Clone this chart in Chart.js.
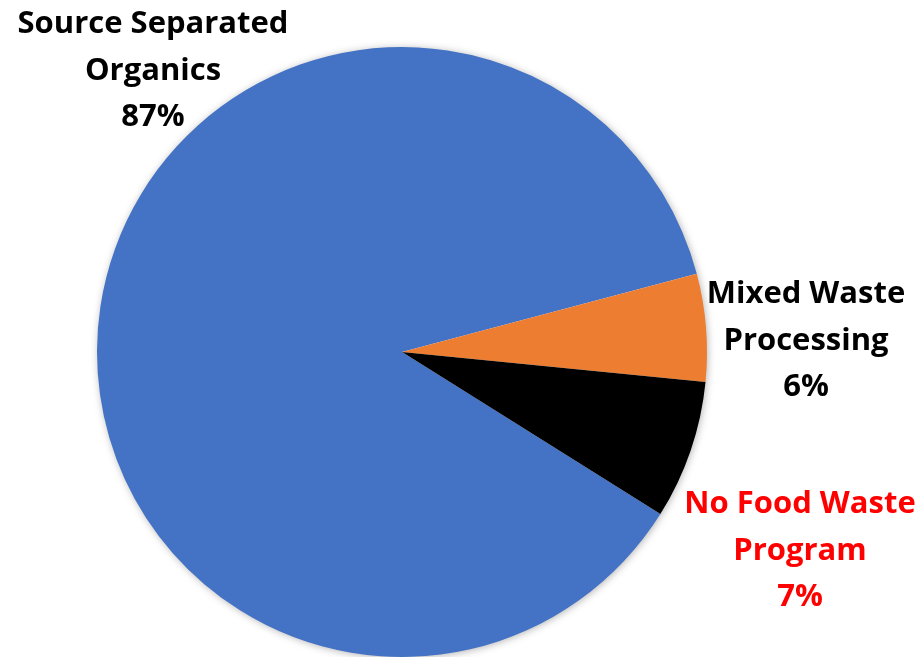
<!DOCTYPE html>
<html lang="en">
<head>
  <title>Food Waste Programs</title>
  <script src="https://cdn.jsdelivr.net/npm/chart.js"></script>
  <style>
    html, body {
      margin: 0;
      padding: 0;
      background: #ffffff;
    }

    .wrap {
      position: relative;
      width: 923px;
      height: 657px;
    }
  </style>
</head>
<body>

<div class="wrap">
  <canvas id="pieChart"></canvas>
</div>

<script>
  // data
  let categories = ["Source Separated Organics", "Mixed Waste Processing", "No Food Waste Program"];
  let labelLines = [["Source Separated", "Organics"], ["Mixed Waste", "Processing"], ["No Food Waste", "Program"]];
  let shares = [86.95, 5.7, 7.35];

  let sliceColors = ["#4472C4", "#ED7D31", "#000000"];
  let labelColors = ["#000000", "#000000", "#FF0000"];
  // where each label block sits (center x, first baseline)
  let labelSpots = [[153, 33], [806, 303], [800, 513]];

  let ctx = document.getElementById('pieChart').getContext('2d');

  // soft shadow under the whole pie, like the Excel one
  let pieShadow = {
    id: 'pieShadow',
    beforeDatasetsDraw(chart) {
      let arc = chart.getDatasetMeta(0).data[0];
      if (!arc) return;
      let c = chart.ctx;
      c.save();
      c.shadowColor = 'rgba(0, 0, 0, 0.35)';
      c.shadowBlur = 9;
      c.shadowOffsetX = 1;
      c.shadowOffsetY = 1;
      c.fillStyle = '#ffffff';
      c.beginPath();
      c.arc(arc.x, arc.y, arc.outerRadius - 1, 0, Math.PI * 2);
      c.fill();
      c.restore();
    }
  };

  let sliceLabels = {
    id: 'sliceLabels',
    afterDatasetsDraw(chart) {
      let c = chart.ctx;
      let total = shares.reduce((a, b) => a + b, 0);
      c.save();
      c.font = 'bold 31px "Open Sans", sans-serif';
      c.textAlign = 'center';
      c.textBaseline = 'alphabetic';
      shares.forEach((v, i) => {
        let lines = labelLines[i].concat([Math.round(v / total * 100) + '%']);
        c.fillStyle = labelColors[i];
        lines.forEach((t, j) => {
          c.fillText(t, labelSpots[i][0], labelSpots[i][1] + j * 46.5);
        });
      });
      c.restore();
    }
  };

  new Chart(ctx, {
    type: 'pie',
    data: {
      labels: categories,
      datasets: [{
        data: shares,
        backgroundColor: sliceColors,
        borderWidth: 0,
        hoverOffset: 0
      }]
    },
    options: {
      responsive: true,
      maintainAspectRatio: false,
      animation: false,
      rotation: 122.1,
      events: [],
      layout: {
        padding: { left: 97, top: 47, right: 216, bottom: 0 }
      },
      plugins: {
        legend: { display: false },
        tooltip: { enabled: false }
      }
    },
    plugins: [pieShadow, sliceLabels]
  });
</script>

</body>
</html>
